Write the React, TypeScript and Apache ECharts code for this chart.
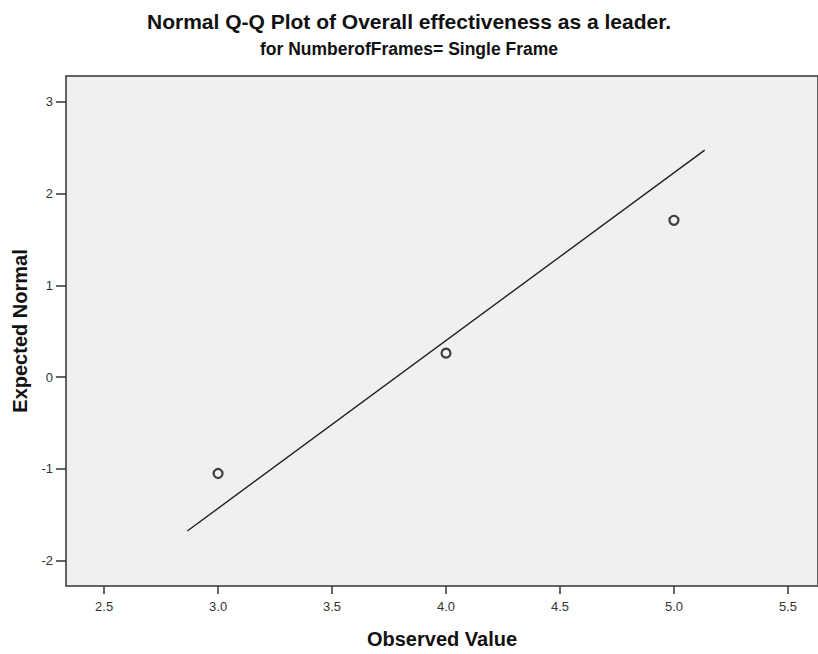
import React, { useEffect, useRef } from "react";
import * as echarts from "echarts";

const observedValues = [3.0, 4.0, 5.0];
const expectedNormal = [-1.05, 0.262, 1.71];
const refLineX = [2.865, 5.135];
const refLineY = [-1.677, 2.475];
const xTickValues = [2.5, 3.0, 3.5, 4.0, 4.5, 5.0, 5.5];
const yTickValues = [-2, -1, 0, 1, 2, 3];

const FONT = "'Liberation Sans', Arial, sans-serif";

export default function App() {
  const ref = useRef<HTMLDivElement>(null);
  useEffect(() => {
    if (!ref.current) return;
    const chart = echarts.init(ref.current, null, { renderer: "svg" });
    chart.setOption({
      animation: false,
      backgroundColor: "#ffffff",
      title: [
        {
          text: "Normal Q-Q Plot of Overall effectiveness as a leader.",
          left: "center",
          top: 6,
          textStyle: { fontFamily: FONT, fontSize: 21, fontWeight: "bold", color: "#111" },
        },
        {
          text: "for NumberofFrames= Single Frame",
          left: "center",
          top: 35,
          textStyle: { fontFamily: FONT, fontSize: 17.5, fontWeight: "bold", color: "#111" },
        },
      ],
      grid: {
        left: 66,
        top: 76,
        right: -4,
        bottom: 61,
        show: true,
        backgroundColor: "#F0F0F0",
        borderColor: "#333",
        borderWidth: 1.5,
        containLabel: false,
      },
      xAxis: {
        type: "value",
        min: 2.3328,
        max: 5.632,
        name: "Observed Value",
        nameLocation: "middle",
        nameGap: 43,
        nameTextStyle: { fontFamily: FONT, fontSize: 20, fontWeight: "bold", color: "#111" },
        splitLine: { show: false },
        axisLine: { show: false, onZero: false },
        axisTick: { show: true, customValues: xTickValues, length: 8, lineStyle: { color: "#333", width: 1.5 } },
        axisLabel: {
          customValues: xTickValues,
          formatter: (v: number) => v.toFixed(1),
          fontFamily: FONT,
          fontSize: 13,
          color: "#333",
          margin: 14,
        },
      },
      yAxis: {
        type: "value",
        min: -2.2765,
        max: 3.283,
        name: "Expected Normal",
        nameLocation: "middle",
        nameGap: 36,
        nameTextStyle: { fontFamily: FONT, fontSize: 20, fontWeight: "bold", color: "#111" },
        splitLine: { show: false },
        axisLine: { show: false, onZero: false },
        axisTick: { show: true, customValues: yTickValues, length: 10, lineStyle: { color: "#333", width: 1.5 } },
        axisLabel: {
          customValues: yTickValues,
          formatter: (v: number) => String(v),
          fontFamily: FONT,
          fontSize: 13,
          color: "#333",
          margin: 13,
        },
      },
      series: [
        {
          type: "line",
          data: refLineX.map((x, i) => [x, refLineY[i]]),
          symbol: "none",
          lineStyle: { color: "#222", width: 1.4 },
          z: 2,
        },
        {
          type: "scatter",
          data: observedValues.map((x, i) => [x, expectedNormal[i]]),
          symbol: "circle",
          symbolSize: 9,
          itemStyle: { color: "transparent", borderColor: "#111", borderWidth: 2.2 },
          z: 3,
        },
      ],
    });
    return () => chart.dispose();
  }, []);
  return (
    <div
      ref={ref}
      style={{ position: "fixed", left: 0, top: 0, width: 818, height: 654, background: "#fff" }}
    />
  );
}
